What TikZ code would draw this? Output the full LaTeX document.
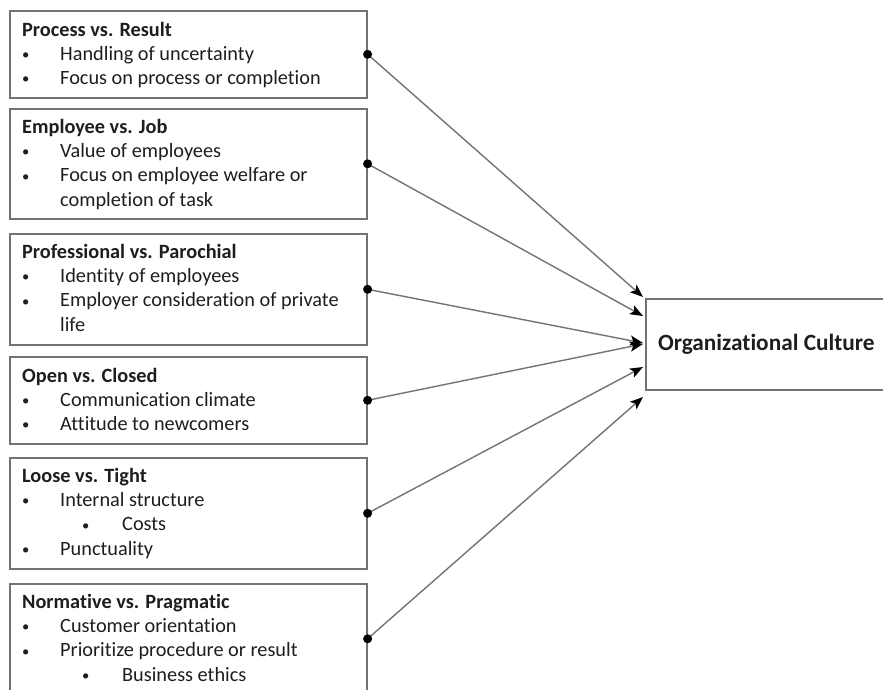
\documentclass[tikz,border=0pt]{standalone}
\usepackage{fontspec}
\setmainfont{Carlito}[Ligatures={NoCommon}]
\usetikzlibrary{arrows.meta}
\definecolor{edge}{HTML}{737373}
\definecolor{ink}{HTML}{1E1E1E}
% bullet glyph and first/second-level bullet lines
\newcommand\dotmark{\raisebox{0.9pt}{\scalebox{0.72}{•}}}
\newcommand\bul[1]{\makebox[38pt][l]{\dotmark}#1}
\newcommand\subbul[1]{\hspace*{60pt}\makebox[40pt][l]{\dotmark}#1}
\begin{document}
\begin{tikzpicture}[x=1pt,y=-1pt,
  dimbox/.style={draw=edge, line width=1.6pt, rectangle, anchor=north west,
    minimum width=357pt, inner sep=0pt},
  txt/.style={anchor=base west, inner sep=0pt, text=ink,
    font=\fontsize{20.3}{24.2}\selectfont},
  link/.style={draw=edge, line width=1.4pt,
    -{Stealth[length=13pt,width=10pt,inset=3pt,color=black]}},
  pin/.style={fill=black}]
\useasboundingbox (0,0) rectangle (883,689);
\clip (0,0) rectangle (883,689);

% dimension boxes
\node[dimbox, minimum height=87pt]  (b1) at (9,10)  {};
\node[dimbox, minimum height=110pt] (b2) at (9,108) {};
\node[dimbox, minimum height=111pt] (b3) at (9,233) {};
\node[dimbox, minimum height=87pt]  (b4) at (9,356) {};
\node[dimbox, minimum height=111pt] (b5) at (9,457) {};
\node[dimbox, minimum height=110pt] (b6) at (9,583) {};

% box contents
\node[txt] (t1) at (22,36) {\parbox[t]{340pt}{\textbf{Process vs. Result}\\
  \bul{Handling of uncertainty}\\
  \bul{Focus on process or completion}}};
\node[txt] (t2) at (22,133.5) {\parbox[t]{340pt}{\textbf{Employee vs. Job}\\
  \bul{Value of employees}\\
  \bul{Focus on employee welfare or}\\
  \hspace*{38pt}completion of task}};
\node[txt] (t3) at (22,258.5) {\parbox[t]{340pt}{\textbf{Professional vs. Parochial}\\
  \bul{Identity of employees}\\
  \bul{Employer consideration of private}\\
  \hspace*{38pt}life}};
\node[txt] (t4) at (22,382) {\parbox[t]{340pt}{\textbf{Open vs. Closed}\\
  \bul{Communication climate}\\
  \bul{Attitude to newcomers}}};
\node[txt] (t5) at (22,482.5) {\parbox[t]{340pt}{\textbf{Loose vs. Tight}\\
  \bul{Internal structure}\\
  \subbul{Costs}\\
  \bul{Punctuality}}};
\node[txt] (t6) at (22,608.5) {\parbox[t]{340pt}{\textbf{Normative vs. Pragmatic}\\
  \bul{Customer orientation}\\
  \bul{Prioritize procedure or result}\\
  \subbul{Business ethics}}};

% target box
\node[draw=edge, line width=1.6pt, rectangle, anchor=west, minimum width=245pt,
  minimum height=91pt, inner sep=0pt, text=ink,
  font=\bfseries\fontsize{23.3}{28}\selectfont] (oc) at (645,344.5) {\hspace*{-4pt}Organizational Culture};

% arrow end points on the target box
\coordinate (a1) at (643,297);
\coordinate (a2) at (643,316);
\coordinate (a3) at (643,343);
\coordinate (a4) at (643,344);
\coordinate (a5) at (643,367);
\coordinate (a6) at (643,397);

% connectors
\foreach \i in {1,...,6}{
  \draw[link] (b\i.east) -- (a\i);
  \fill[pin] (b\i.east) circle (4.5pt);
}
\end{tikzpicture}
\end{document}
